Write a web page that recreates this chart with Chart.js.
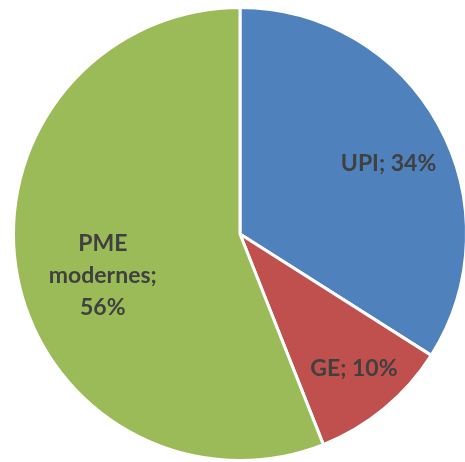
<!DOCTYPE html>
<html>
<head>
<meta charset="utf-8">
<script src="https://cdn.jsdelivr.net/npm/chart.js@4/dist/chart.umd.min.js"></script>
<style>
  html, body { margin: 0; padding: 0; background: #fff; overflow: hidden; }
  #wrap { width: 480px; height: 462px; }
</style>
</head>
<body>
<div id="wrap"><canvas id="pieChart" width="480" height="462"></canvas></div>
<script>
// Données du graphique
const categories = ['UPI', 'GE', 'PME modernes'];
const values = [34, 10, 56];
const labelLines = [['UPI; 34%'], ['GE; 10%'], ['PME', 'modernes;', '56%']];
const colors = ['#4F81BD', '#C0504D', '#9BBB59'];

// placement des libellés : fraction du rayon + décalage d'angle (degrés)
const labelRadius = [0.726, 0.776, 0.632];
const labelAngleShift = [3.4, -0.8, -5.75];

// Plugin pour dessiner les libellés dans les parts
const sliceLabels = {
    id: 'sliceLabels',
    afterDatasetsDraw(chart) {
        const ctx = chart.ctx;
        const meta = chart.getDatasetMeta(0);
        ctx.save();
        ctx.fillStyle = '#404040';
        ctx.font = 'bold 23px Lato, "Open Sans", sans-serif';
        ctx.textAlign = 'center';
        ctx.textBaseline = 'alphabetic';
        meta.data.forEach((arc, i) => {
            const mid = (arc.startAngle + arc.endAngle) / 2 + labelAngleShift[i] * Math.PI / 180;
            const r = arc.outerRadius * labelRadius[i];
            const x = arc.x + Math.cos(mid) * r;
            const y = arc.y + Math.sin(mid) * r;
            const lines = labelLines[i];
            const lh = 31.75;
            lines.forEach((t, j) => {
                ctx.fillText(t, x, y + 8 + (j - (lines.length - 1) / 2) * lh);
            });
        });
        ctx.restore();
    }
};

new Chart(document.getElementById('pieChart').getContext('2d'), {
    type: 'pie',
    data: {
        labels: categories,
        datasets: [{
            data: values,
            backgroundColor: colors,
            borderColor: '#ffffff',
            borderWidth: 3
        }]
    },
    options: {
        responsive: false,
        animation: false,
        layout: { padding: { top: 6, bottom: 0, left: 12, right: 12 } },
        plugins: {
            legend: { display: false },
            tooltip: { enabled: false }
        }
    },
    plugins: [sliceLabels]
});
</script>
</body>
</html>
